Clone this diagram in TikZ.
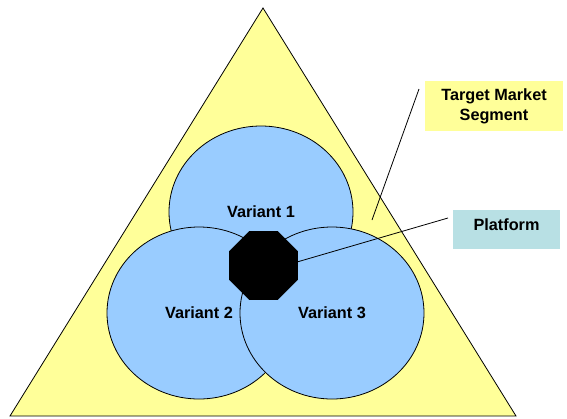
\documentclass[tikz,border=0pt]{standalone}
\usepackage{fontspec}
\setmainfont{Liberation Sans}
\usetikzlibrary{shapes.geometric, positioning}
\definecolor{segyellow}{HTML}{FFFF99}
\definecolor{varblue}{HTML}{99CCFF}
\definecolor{platteal}{HTML}{B8E0E4}

\begin{document}
\begin{tikzpicture}[x=0.75pt, y=-0.75pt, line width=0.6pt,
  font=\fontsize{12.2}{15}\selectfont\bfseries,
  variant/.style={ellipse, draw, fill=varblue, inner sep=0pt,
    minimum width=138pt, minimum height=129pt},
  calloutbox/.style={align=center, inner sep=0pt}]
  \useasboundingbox (0,0) rectangle (567,418);

  % market segment triangle
  \filldraw[fill=segyellow] (10,416) -- (516,416) -- (263,8) -- cycle;

  % product variants
  \node[variant] (v1) at (261,212) {Variant 1};
  \node[variant] (v2) at (199,313) {Variant 2};
  \node[variant] (v3) at (332,313) {Variant 3};

  % callouts
  \node[calloutbox, fill=segyellow, minimum width=103.5pt, minimum height=37.5pt]
    (seg) at (494,106) {Target Market\\Segment};
  \node[calloutbox, fill=platteal, minimum width=80.25pt, minimum height=29.25pt,
    text depth=8pt] (plat) at (506.5,229.5) {Platform};

  \coordinate (segtip) at (372,220);
  \coordinate (segfoot) at (419,89);
  \coordinate (plattip) at (297,262);
  \coordinate (platfoot) at (448,218);
  \draw (segfoot) -- (segtip);
  \draw (platfoot) -- (plattip);

  % shared platform
  \node[regular polygon, regular polygon sides=8, fill=black, draw,
    minimum size=55.2pt, inner sep=0pt] (core) at (263.5,265.5) {};
\end{tikzpicture}
\end{document}
